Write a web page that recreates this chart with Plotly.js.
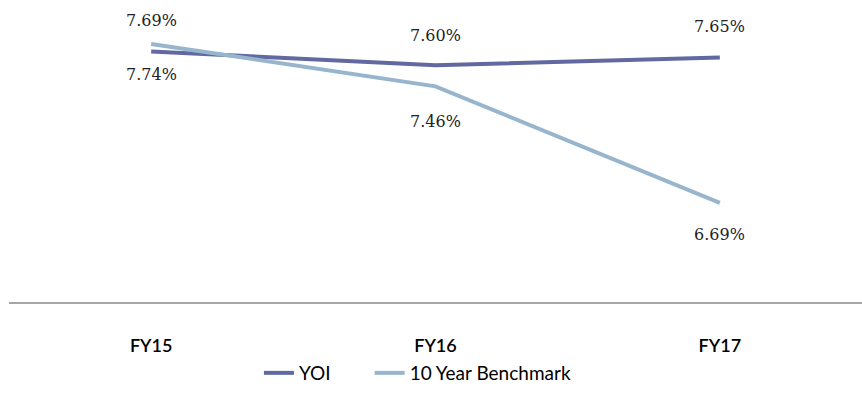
<!DOCTYPE html>
<html>
<head>
<meta charset="utf-8">
<script src="https://cdn.plot.ly/plotly-3.0.1.min.js"></script>
<style>html,body{margin:0;padding:0;background:#fff;}#chart{width:862px;height:393px;}</style>
</head>
<body>
<div id="chart"></div>
<script>
const categories = ["FY15", "FY16", "FY17"];
const yoiValues = [7.69, 7.60, 7.65];
const benchmarkValues = [7.74, 7.46, 6.69];
const seriesNames = ["YOI", "10 Year Benchmark"];
const yoiLabelShift = [31, 30, 31];
const benchLabelShift = [-31, -35, -32];

const yoiColor = "#6169A0";
const benchColor = "#97B5CD";
const pad = "\u00a0".repeat(7);

const traces = [
  {x: categories, y: yoiValues, name: seriesNames[0] + pad, type: "scatter", mode: "lines",
   line: {color: yoiColor, width: 4}, cliponaxis: false},
  {x: categories, y: benchmarkValues, name: seriesNames[1], type: "scatter", mode: "lines",
   line: {color: benchColor, width: 4}, cliponaxis: false}
];

const labelFont = {family: "DejaVu Serif, Liberation Serif, serif", size: 16, color: "#222"};
const annotations = [];
categories.forEach((c, i) => {
  annotations.push({x: c, y: yoiValues[i], text: yoiValues[i].toFixed(2) + "%", showarrow: false,
    yshift: yoiLabelShift[i], font: labelFont});
  annotations.push({x: c, y: benchmarkValues[i], text: benchmarkValues[i].toFixed(2) + "%", showarrow: false,
    yshift: benchLabelShift[i], font: labelFont});
});

const layout = {
  width: 862, height: 393,
  margin: {l: 9, r: 0, t: 0, b: 91, autoexpand: false},
  paper_bgcolor: "#fff", plot_bgcolor: "#fff",
  showlegend: true,
  legend: {orientation: "h", x: 0.293, xanchor: "left", y: -0.298, yanchor: "bottom",
    font: {family: "Lato, Open Sans, sans-serif", size: 19, color: "#000"}},
  xaxis: {type: "category", range: [-0.5, 2.5], showgrid: false, zeroline: false,
    showline: true, linecolor: "#A6A6A6", linewidth: 1.5, ticks: "",
    ticklabelstandoff: 27,
    tickfont: {family: "Lato, Open Sans, sans-serif", size: 18, color: "#000", weight: 600}},
  yaxis: {range: [6.036, 8.03], visible: false, showgrid: false, zeroline: false},
  annotations: annotations
};

Plotly.newPlot("chart", traces, layout, {displayModeBar: false, staticPlot: true});
</script>
</body>
</html>
